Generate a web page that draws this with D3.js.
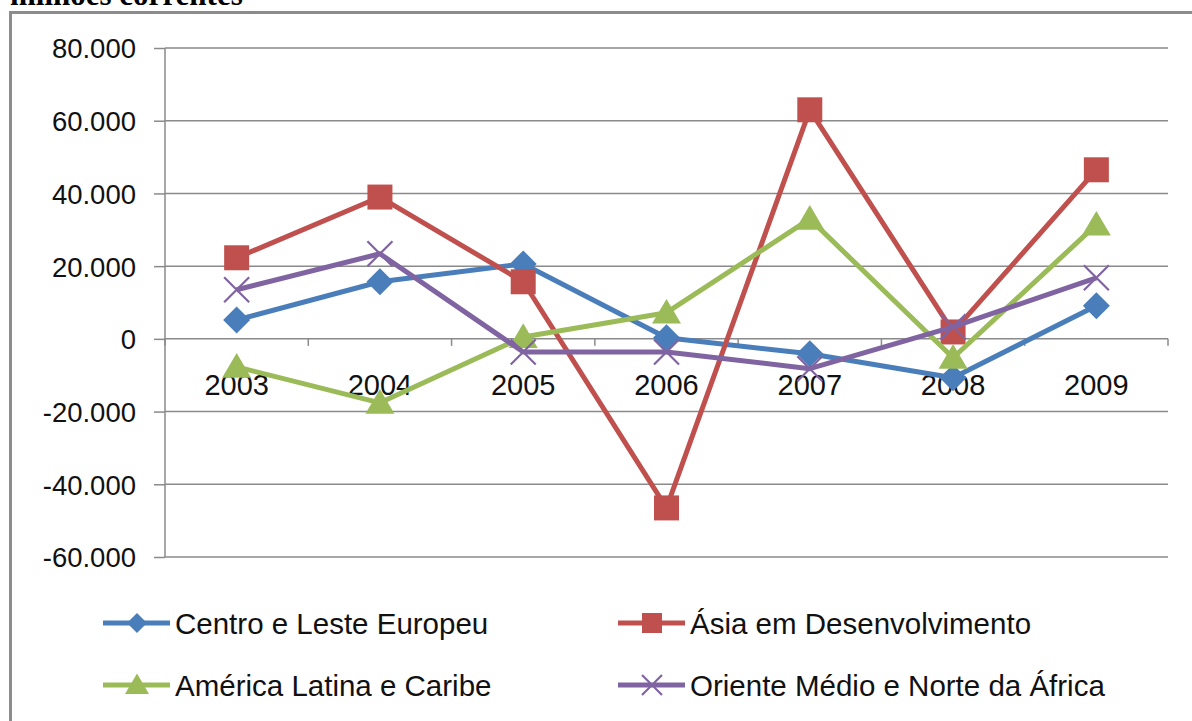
<!DOCTYPE html>
<html>
  <head>
    <title>Fluxos por região</title>
    <script src="https://d3js.org/d3.v7.min.js"></script>
    <style>
      body { margin: 0; background: #fff; }
      .axis text, .legend text {
        font-family: "Liberation Sans", Arial, sans-serif;
        font-size: 27.5px;
        fill: #111;
      }
      .axis.x text { font-size: 29px; }
      .legend text { font-size: 29.5px; }
      .title {
        font-family: "Liberation Serif", serif;
        font-weight: bold;
        font-size: 31px;
        fill: #000;
      }
    </style>
  </head>
  <body>
    <svg width="1192" height="721"></svg>
    <script>
      const years = ["2003", "2004", "2005", "2006", "2007", "2008", "2009"];
      const yTicks = [80000, 60000, 40000, 20000, 0, -20000, -40000, -60000];

      const centroLeste = [5200, 15700, 20600, 300, -4100, -10700, 9100];
      const asiaDesenv = [22300, 39000, 15700, -46500, 63000, 1900, 46500];
      const americaLatina = [-7700, -17600, 500, 7200, 33000, -5200, 31400];
      const orienteMedio = [13500, 23400, -3600, -3600, -8200, 3300, 16800];

      const series = [
        { name: "Centro e Leste Europeu", values: centroLeste, color: "#4a7ebb", symbol: "diamond" },
        { name: "Ásia em Desenvolvimento", values: asiaDesenv, color: "#c0504d", symbol: "square" },
        { name: "América Latina e Caribe", values: americaLatina, color: "#9bbb59", symbol: "triangle" },
        { name: "Oriente Médio e Norte da África", values: orienteMedio, color: "#8064a2", symbol: "x" }
      ];

      const svg = d3.select("svg");

      // title, cut off at the top of the page like in the source
      svg.append("text")
        .attr("class", "title")
        .attr("x", 10)
        .attr("y", 5)
        .text("milhões correntes");

      // outer frame (continues past the right and bottom edges)
      svg.append("rect")
        .attr("x", 10.5)
        .attr("y", 12.5)
        .attr("width", 1300)
        .attr("height", 800)
        .attr("fill", "none")
        .attr("stroke", "#8c8c8c")
        .attr("stroke-width", 3);

      const x = d3.scaleBand().domain(years).range([165, 1168]);
      const y = d3.scaleLinear().domain([-60000, 80000]).range([557, 48]);

      const fmt = d => d === 0 ? "0" : d3.format(",")(d).replace(/,/g, ".").replace("−", "-");

      // gridlines
      svg.append("g")
        .selectAll("line")
        .data(yTicks)
        .join("line")
          .attr("x1", 165)
          .attr("x2", 1168)
          .attr("y1", d => y(d))
          .attr("y2", d => y(d))
          .attr("stroke", "#8a8a8a")
          .attr("stroke-width", 1.5);

      // value axis
      const yAxis = svg.append("g")
        .attr("class", "axis")
        .attr("transform", "translate(165,0)")
        .call(d3.axisLeft(y).tickValues(yTicks).tickFormat(fmt).tickSize(11).tickPadding(18));
      yAxis.selectAll("line, path").attr("stroke", "#8a8a8a").attr("stroke-width", 1.5);
      yAxis.select(".domain").attr("d", `M0,${y(80000)}V${y(-60000)}`);
      yAxis.selectAll("text").attr("dy", "0.36em");

      // category axis on the zero line
      const xAxis = svg.append("g")
        .attr("class", "axis x")
        .attr("transform", `translate(0,${y(0)})`);
      xAxis.selectAll("line")
        .data(years.concat(["end"]))
        .join("line")
          .attr("x1", (d, i) => 165 + i * x.step())
          .attr("x2", (d, i) => 165 + i * x.step())
          .attr("y1", 0)
          .attr("y2", 7)
          .attr("stroke", "#8a8a8a")
          .attr("stroke-width", 1.5);
      xAxis.selectAll("text")
        .data(years)
        .join("text")
          .attr("x", d => x(d) + x.bandwidth() / 2)
          .attr("y", 56)
          .attr("text-anchor", "middle")
          .text(d => d);

      const cx = (d, i) => x(years[i]) + x.bandwidth() / 2;
      const line = d3.line().x(cx).y(d => y(d));

      function drawMarker(g, symbol, color, size) {
        const h = size / 2;
        if (symbol === "x") {
          g.append("path")
            .attr("d", `M${-h},${-h}L${h},${h}M${-h},${h}L${h},${-h}`)
            .attr("stroke", color)
            .attr("stroke-width", 2.2)
            .attr("fill", "none");
          return;
        }
        let d;
        if (symbol === "diamond") d = `M0,${-h}L${h},0L0,${h}L${-h},0Z`;
        else if (symbol === "square") d = `M${-h},${-h}H${h}V${h}H${-h}Z`;
        else d = `M0,${-h * 0.95}L${h},${h * 0.75}L${-h},${h * 0.75}Z`;
        g.append("path").attr("d", d).attr("fill", color);
      }

      const sizes = { diamond: 27, square: 25, triangle: 29, x: 25 };

      series.forEach(s => {
        svg.append("path")
          .attr("d", line(s.values))
          .attr("fill", "none")
          .attr("stroke", s.color)
          .attr("stroke-width", 5)
          .attr("stroke-linejoin", "round");
        s.values.forEach((v, i) => {
          const g = svg.append("g").attr("transform", `translate(${cx(v, i)},${y(v)})`);
          drawMarker(g, s.symbol, s.color, sizes[s.symbol]);
        });
      });

      // legend
      const legend = svg.append("g").attr("class", "legend");
      const legendPos = [[103, 623], [618, 623], [103, 685], [618, 685]];
      series.forEach((s, i) => {
        const g = legend.append("g").attr("transform", `translate(${legendPos[i][0]},${legendPos[i][1]})`);
        g.append("line")
          .attr("x1", 0).attr("x2", 67)
          .attr("stroke", s.color)
          .attr("stroke-width", 5);
        const m = g.append("g").attr("transform", "translate(34,0)");
        drawMarker(m, s.symbol, s.color, s.symbol === "triangle" ? 24 : 20);
        g.append("text")
          .attr("x", 72)
          .attr("dy", "0.36em")
          .text(s.name);
      });
    </script>
  </body>
</html>
